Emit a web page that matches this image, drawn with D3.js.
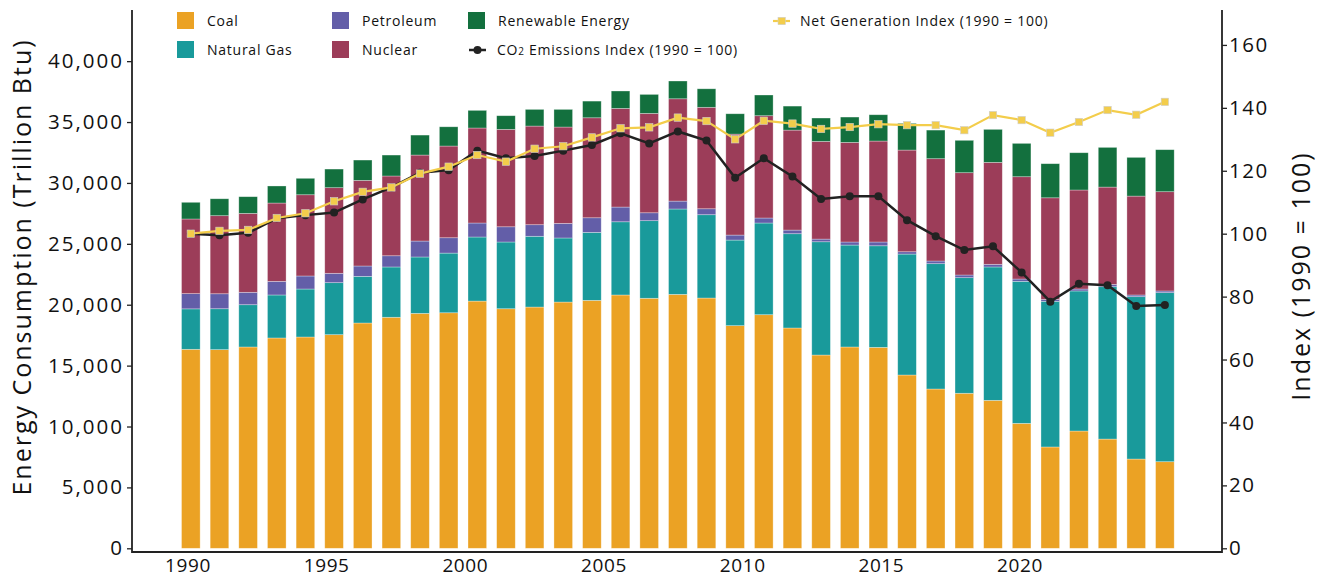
<!DOCTYPE html>
<html>
<head>
<meta charset="utf-8">
<script src="https://cdn.jsdelivr.net/npm/d3@7"></script>
<style>
  body { margin: 0; background: #fff; }
  text { font-family: "Open Sans", sans-serif; fill: #111; }
</style>
</head>
<body>
<script>
//Data______________________________________________________________________________________________
var years = d3.range(1990, 2025);

var coal = [16340, 16310, 16530, 17270, 17350, 17540, 18500, 18970, 19290, 19340,
            20300, 19670, 19810, 20220, 20360, 20800, 20530, 20850, 20550, 18280,
            19180, 18090, 15870, 16530, 16500, 14230, 13080, 12730, 12150, 10260,
            8320, 9630, 8970, 7330, 7110];
var naturalGas = [3320, 3360, 3470, 3530, 3940, 4270, 3830, 4130, 4630, 4900,
                  5260, 5480, 5810, 5260, 5580, 6010, 6370, 7010, 6840, 7030,
                  7530, 7740, 9300, 8370, 8340, 9930, 10290, 9490, 10950, 11660,
                  11960, 11500, 12510, 13330, 13880];
var petroleum = [1250, 1230, 1020, 1120, 1070, 770, 850, 920, 1310, 1260,
                 1150, 1250, 950, 1200, 1200, 1210, 650, 650, 490, 410,
                 410, 300, 220, 250, 310, 190, 220, 220, 220, 190,
                 160, 160, 190, 140, 140];
var nuclear = [6130, 6410, 6480, 6430, 6670, 7030, 7030, 6550, 7060, 7530,
               7800, 8000, 8100, 7910, 8210, 8100, 8160, 8400, 8330, 8290,
               8400, 8210, 8020, 8180, 8290, 8350, 8400, 8400, 8370, 8400,
               8340, 8130, 7990, 8120, 8150];
var renewable = [1370, 1390, 1370, 1400, 1350, 1530, 1670, 1720, 1640, 1580,
                 1450, 1120, 1370, 1450, 1370, 1430, 1560, 1460, 1520, 1670,
                 1700, 1970, 1920, 2080, 2160, 2190, 2350, 2660, 2710, 2740,
                 2800, 3060, 3260, 3180, 3450];

var co2Index = [100, 99.5, 100.3, 104.9, 105.9, 106.7, 110.9, 114.7, 119.4, 120.2,
                126.4, 124.0, 124.7, 126.4, 128.2, 131.9, 128.7, 132.5, 129.6, 117.8,
                124.0, 118.2, 111.0, 111.9, 111.9, 104.3, 99.2, 94.8, 96.0, 87.7,
                78.4, 84.1, 83.6, 77.0, 77.3];
var netGenIndex = [100, 100.9, 101.2, 105.0, 106.5, 110.3, 113.3, 114.7, 119.1, 121.3,
                   125.0, 122.9, 127.0, 127.8, 130.6, 133.5, 133.8, 136.9, 135.8, 130.0,
                   135.9, 135.0, 133.3, 133.9, 134.8, 134.5, 134.5, 132.9, 137.7, 136.1,
                   132.1, 135.5, 139.3, 137.8, 141.9];

var sourceKeys = ["coal", "naturalGas", "petroleum", "nuclear", "renewable"];
var sourceNames = ["Coal", "Natural Gas", "Petroleum", "Nuclear", "Renewable Energy"];
var sourceColors = ["#eba224", "#199a9b", "#635ea8", "#9c3d59", "#13703e"];

var leftTicks = [0, 5000, 10000, 15000, 20000, 25000, 30000, 35000, 40000];
var rightTicks = [0, 20, 40, 60, 80, 100, 120, 140, 160];
var yearTicks = [1990, 1995, 2000, 2005, 2010, 2015, 2020];

var co2Color = "#222222";
var netGenColor = "#f3cd4b";

//Group_____________________________________________________________________________________________
var margin = {top: 10, right: 101, bottom: 26, left: 132};
var width = 1323 - margin.left - margin.right;
var height = 578 - margin.top - margin.bottom;

var svg = d3.select("body")
    .append("svg")
        .attr("width", 1323)
        .attr("height", 578);

var g = svg.append("g")
    .attr("transform", "translate(" + margin.left + ", " + margin.top + ")");

var table = years.map((yr, i) => ({
    year: yr,
    coal: coal[i],
    naturalGas: naturalGas[i],
    petroleum: petroleum[i],
    nuclear: nuclear[i],
    renewable: renewable[i]
}));

//Scales____________________________________________________________________________________________
var zeroY = height - 3.7; // bars sit a little above the axis line

var x = d3.scaleBand()
    .domain(years)
    .range([44.5, 1047.2])
    .paddingInner(0.35)
    .paddingOuter(0.175);

var xLabel = d3.scaleLinear()
    .domain([1988, 2027.3])
    .range([0, width]);

var y = d3.scaleLinear()
    .domain([0, 44200])
    .range([zeroY, 0]);

var yIndex = d3.scaleLinear()
    .domain([0, 171.1])
    .range([zeroY, 0]);

var color = d3.scaleOrdinal()
    .domain(sourceKeys)
    .range(sourceColors);

//Stacked bars______________________________________________________________________________________
var stacked = d3.stack().keys(sourceKeys)(table);

g.selectAll("g.layer")
    .data(stacked)
    .enter()
    .append("g")
        .attr("class", "layer")
        .attr("fill", (d) => color(d.key))
    .selectAll("rect")
    .data((d) => d)
    .enter()
    .append("rect")
        .attr("x", (d) => x(d.data.year))
        .attr("y", (d) => y(d[1]))
        .attr("width", x.bandwidth())
        .attr("height", (d) => y(d[0]) - y(d[1]))
        .attr("stroke", "#ffffff")
        .attr("stroke-opacity", 0.45)
        .attr("stroke-width", 0.7);

//Index lines_______________________________________________________________________________________
var line = (vals) => d3.line()
    .x((d, i) => x(years[i]) + x.bandwidth() / 2)
    .y((d) => yIndex(d))(vals);

g.append("path")
    .attr("d", line(co2Index))
    .attr("fill", "none")
    .attr("stroke", co2Color)
    .attr("stroke-width", 2.5);

g.selectAll("circle.co2")
    .data(co2Index)
    .enter()
    .append("circle")
        .attr("class", "co2")
        .attr("cx", (d, i) => x(years[i]) + x.bandwidth() / 2)
        .attr("cy", (d) => yIndex(d))
        .attr("r", 4)
        .attr("fill", co2Color);

g.append("path")
    .attr("d", line(netGenIndex))
    .attr("fill", "none")
    .attr("stroke", netGenColor)
    .attr("stroke-width", 2.2);

g.selectAll("rect.netgen")
    .data(netGenIndex)
    .enter()
    .append("rect")
        .attr("class", "netgen")
        .attr("x", (d, i) => x(years[i]) + x.bandwidth() / 2 - 3.7)
        .attr("y", (d) => yIndex(d) - 3.7)
        .attr("width", 7.4)
        .attr("height", 7.4)
        .attr("fill", netGenColor)
        .attr("stroke", "#cfcfcf")
        .attr("stroke-width", 0.6);

//Axes______________________________________________________________________________________________
var leftAxis = d3.axisLeft(y)
    .tickValues(leftTicks)
    .tickSize(5)
    .tickPadding(3)
    .tickFormat(d3.format(","));

g.append("g")
    .attr("class", "left axis")
    .call(leftAxis)
    .call((a) => a.select(".domain").remove())
    .selectAll("text")
        .style("font-size", "20.5px")
        .style("letter-spacing", "2px");

var rightAxis = d3.axisRight(yIndex)
    .tickValues(rightTicks)
    .tickSize(5)
    .tickPadding(2);

g.append("g")
    .attr("class", "right axis")
    .attr("transform", "translate(" + width + ",0)")
    .call(rightAxis)
    .call((a) => a.select(".domain").remove())
    .selectAll("text")
        .style("font-size", "20.5px")
        .style("letter-spacing", "1.5px");

var bottomAxis = d3.axisBottom(xLabel)
    .tickValues(yearTicks)
    .tickSize(0)
    .tickPadding(6)
    .tickFormat(d3.format("d"));

g.append("g")
    .attr("class", "bottom axis")
    .attr("transform", "translate(0," + height + ")")
    .call(bottomAxis)
    .call((a) => a.select(".domain").remove())
    .selectAll("text")
        .style("font-size", "19px")
        .style("letter-spacing", "0.6px");

g.selectAll(".axis line").attr("stroke", "#222").attr("stroke-width", 1.3);
g.selectAll(".axis text").style("fill", "#111");

// frame lines (left, bottom, right)
g.append("path")
    .attr("d", "M0,0V" + height + "H" + width + "V0")
    .attr("fill", "none")
    .attr("stroke", "#222")
    .attr("stroke-width", 1.8);

//Axis labels
g.append("text")
    .attr("class", "y axis-label")
    .attr("x", -(267 - margin.top))
    .attr("y", 31 - margin.left)
    .attr("font-size", "25px")
    .attr("letter-spacing", "2px")
    .attr("text-anchor", "middle")
    .attr("transform", "rotate(-90)")
    .text("Energy Consumption (Trillion Btu)");

g.append("text")
    .attr("class", "y2 axis-label")
    .attr("x", -(276 - margin.top))
    .attr("y", 1310 - margin.left)
    .attr("font-size", "25px")
    .attr("letter-spacing", "2px")
    .attr("text-anchor", "middle")
    .attr("transform", "rotate(-90)")
    .text("Index (1990 = 100)");

//Legend____________________________________________________________________________________________
var legendPos = [[177, 12], [177, 41], [332, 12], [332, 41], [468, 12]];

var legend = svg.append("g").attr("class", "legend");

sourceKeys.forEach((k, i) => {
    var p = legendPos[i];
    legend.append("rect")
        .attr("x", p[0])
        .attr("y", p[1])
        .attr("width", 17)
        .attr("height", 17)
        .attr("fill", color(k));
    legend.append("text")
        .attr("x", p[0] + 30)
        .attr("y", p[1] + 9)
        .attr("dy", "0.35em")
        .attr("font-size", "14px")
        .attr("letter-spacing", "0.75px")
        .text(sourceNames[i]);
});

// CO2 line key
legend.append("line")
    .attr("x1", 469).attr("x2", 486)
    .attr("y1", 50).attr("y2", 50)
    .attr("stroke", co2Color).attr("stroke-width", 2.5);
legend.append("circle")
    .attr("cx", 477.5).attr("cy", 50).attr("r", 4)
    .attr("fill", co2Color);
var co2Label = legend.append("text")
    .attr("x", 497)
    .attr("y", 50)
    .attr("dy", "0.35em")
    .attr("font-size", "14px")
    .attr("letter-spacing", "0.75px");
co2Label.append("tspan").text("CO");
co2Label.append("tspan").attr("font-size", "10px").text("2");
co2Label.append("tspan").text(" Emissions Index (1990 = 100)");

// Net generation key
legend.append("line")
    .attr("x1", 773).attr("x2", 790)
    .attr("y1", 21).attr("y2", 21)
    .attr("stroke", netGenColor).attr("stroke-width", 2.2);
legend.append("rect")
    .attr("x", 778).attr("y", 17.3)
    .attr("width", 7.4).attr("height", 7.4)
    .attr("fill", netGenColor)
    .attr("stroke", "#cfcfcf").attr("stroke-width", 0.6);
legend.append("text")
    .attr("x", 800)
    .attr("y", 21)
    .attr("dy", "0.35em")
    .attr("font-size", "14px")
    .attr("letter-spacing", "0.75px")
    .text("Net Generation Index (1990 = 100)");
</script>
</body>
</html>
